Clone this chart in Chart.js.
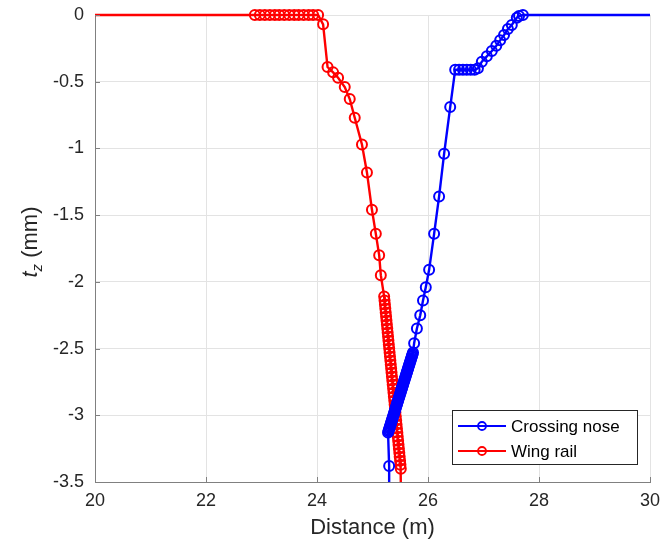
<!DOCTYPE html>
<html>
<head>
<meta charset="utf-8">
<script src="https://cdn.jsdelivr.net/npm/chart.js@4"></script>
<style>
  html, body { margin: 0; padding: 0; background: #fff; }
  #wrap { width: 662px; height: 548px; }
</style>
</head>
<body>
<div id="wrap"><canvas id="chart" width="662" height="548"></canvas></div>
<script>
// Data
const seriesNames = ["Crossing nose", "Wing rail"];

const noseX = [25.30, 25.30,
  25.2800, 25.2875, 25.2950, 25.3025, 25.3100, 25.3175, 25.3250, 25.3325, 25.3400, 25.3475,
  25.3550, 25.3625, 25.3700, 25.3775, 25.3850, 25.3925, 25.4000, 25.4075, 25.4150, 25.4225,
  25.4300, 25.4375, 25.4450, 25.4525, 25.4600, 25.4675, 25.4750, 25.4825, 25.4900, 25.4975,
  25.5050, 25.5125, 25.5200, 25.5275, 25.5350, 25.5425, 25.5500, 25.5575, 25.5650, 25.5725,
  25.5800, 25.5875, 25.5950, 25.6025, 25.6100, 25.6175, 25.6250, 25.6325, 25.6400, 25.6475,
  25.6550, 25.6625, 25.6700, 25.6775, 25.6850, 25.6925, 25.7000, 25.7075, 25.7150, 25.7225, 25.7300,
  25.75, 25.80, 25.86, 25.91, 25.96, 26.02, 26.11, 26.20, 26.29, 26.40,
  26.49, 26.56, 26.63, 26.70, 26.77, 26.84, 26.90,
  26.97, 27.06, 27.15, 27.23, 27.30, 27.37, 27.44, 27.51, 27.60, 27.64, 27.71, 31];
const noseY = [-3.9, -3.38,
  -3.13, -3.12, -3.11, -3.10, -3.09, -3.08, -3.07, -3.06, -3.05, -3.04,
  -3.03, -3.02, -3.01, -3.00, -2.99, -2.98, -2.97, -2.96, -2.95, -2.94,
  -2.93, -2.92, -2.91, -2.90, -2.89, -2.88, -2.87, -2.86, -2.85, -2.84,
  -2.83, -2.82, -2.81, -2.80, -2.79, -2.78, -2.77, -2.76, -2.75, -2.74,
  -2.73, -2.72, -2.71, -2.70, -2.69, -2.68, -2.67, -2.66, -2.65, -2.64,
  -2.63, -2.62, -2.61, -2.60, -2.59, -2.58, -2.57, -2.56, -2.55, -2.54, -2.53,
  -2.46, -2.35, -2.25, -2.14, -2.04, -1.91, -1.64, -1.36, -1.04, -0.69,
  -0.41, -0.41, -0.41, -0.41, -0.41, -0.41, -0.40,
  -0.35, -0.31, -0.27, -0.23, -0.19, -0.15, -0.105, -0.075, -0.02, -0.008, 0, 0];

const wingX = [19,
  22.88, 22.97, 23.06, 23.15, 23.24, 23.32, 23.41, 23.50, 23.59, 23.67, 23.76, 23.85, 23.93, 24.02,
  24.11, 24.19, 24.29, 24.38, 24.50, 24.59, 24.68, 24.81, 24.90, 24.99, 25.06, 25.12, 25.15,
  25.210, 25.217, 25.224, 25.231, 25.238, 25.245, 25.252, 25.259, 25.266, 25.273,
  25.280, 25.287, 25.294, 25.301, 25.308, 25.315, 25.322, 25.329, 25.336, 25.343,
  25.350, 25.357, 25.364, 25.371, 25.378, 25.385, 25.392, 25.399, 25.406, 25.413,
  25.420, 25.427, 25.434, 25.441, 25.448, 25.455, 25.462, 25.469, 25.476, 25.483,
  25.490, 25.497, 25.504, 25.510, 25.52];
const wingY = [0,
  0, 0, 0, 0, 0, 0, 0, 0, 0, 0, 0, 0, 0, 0,
  -0.07, -0.39, -0.43, -0.47, -0.54, -0.63, -0.77, -0.97, -1.18, -1.46, -1.64, -1.80, -1.95,
  -2.11, -2.14, -2.17, -2.20, -2.23, -2.26, -2.29, -2.32, -2.35, -2.38,
  -2.41, -2.44, -2.47, -2.50, -2.53, -2.56, -2.59, -2.62, -2.65, -2.68,
  -2.71, -2.74, -2.77, -2.80, -2.83, -2.86, -2.89, -2.92, -2.95, -2.98,
  -3.01, -3.04, -3.07, -3.10, -3.13, -3.16, -3.19, -3.22, -3.25, -3.28,
  -3.31, -3.34, -3.37, -3.40, -3.9];

const xTicks = [20, 22, 24, 26, 28, 30];
const yTicks = [0, -0.5, -1, -1.5, -2, -2.5, -3, -3.5];
const seriesColors = ["#0000ff", "#ff0000"];

const FONT = '"Liberation Sans", Arial, Helvetica, sans-serif';
const TEXT = "#262626";
const AXIS = "#808080";

function toPoints(xs, ys) {
  return xs.map((x, i) => ({ x: x, y: ys[i] }));
}

function makeDataset(name, color, pts) {
  return {
    label: name,
    data: pts,
    showLine: true,
    borderColor: color,
    backgroundColor: "transparent",
    borderWidth: 2.4,
    pointRadius: 5,
    pointBorderWidth: 2,
    pointBorderColor: color,
    pointBackgroundColor: "transparent",
    pointHoverRadius: 5,
    // let the y=0 markers spill over the top edge, clip everything else
    clip: { left: 0, top: 8, right: 0, bottom: 0 },
  };
}

// Axis titles, inward ticks and the boxed legend, drawn the MATLAB way
const decorations = {
  id: "decorations",
  afterDraw(chart) {
    const { ctx, chartArea, scales } = chart;
    ctx.save();

    // inward tick marks
    ctx.strokeStyle = AXIS;
    ctx.lineWidth = 1;
    ctx.beginPath();
    xTicks.forEach((t) => {
      const px = Math.round(scales.x.getPixelForValue(t)) + 0.5;
      ctx.moveTo(px, chartArea.bottom);
      ctx.lineTo(px, chartArea.bottom - 5);
    });
    yTicks.forEach((t) => {
      const py = Math.round(scales.y.getPixelForValue(t)) + 0.5;
      ctx.moveTo(chartArea.left, py);
      ctx.lineTo(chartArea.left + 5, py);
    });
    ctx.stroke();

    // x title
    ctx.fillStyle = TEXT;
    ctx.font = "22px " + FONT;
    ctx.textAlign = "center";
    ctx.textBaseline = "middle";
    ctx.fillText("Distance (m)", (chartArea.left + chartArea.right) / 2, 528);

    // y title: italic t with subscript z
    ctx.save();
    ctx.translate(30, 242);
    ctx.rotate(-Math.PI / 2);
    ctx.textAlign = "left";
    ctx.textBaseline = "alphabetic";
    const fT = "italic 22px " + FONT;
    const fZ = "italic 15px " + FONT;
    const fR = "22px " + FONT;
    ctx.font = fT; const wT = ctx.measureText("t").width;
    ctx.font = fZ; const wZ = ctx.measureText("z").width;
    ctx.font = fR; const wR = ctx.measureText(" (mm)").width;
    let x0 = -(wT + wZ + wR) / 2;
    const base = 7;
    ctx.font = fT; ctx.fillText("t", x0, base); x0 += wT;
    ctx.font = fZ; ctx.fillText("z", x0, base + 5); x0 += wZ;
    ctx.font = fR; ctx.fillText(" (mm)", x0, base);
    ctx.restore();

    // legend box
    const bx = 452, by = 410, bw = 185, bh = 54;
    ctx.fillStyle = "#fff";
    ctx.fillRect(bx, by, bw, bh);
    ctx.strokeStyle = TEXT;
    ctx.lineWidth = 1;
    ctx.strokeRect(bx + 0.5, by + 0.5, bw, bh);
    ctx.font = "17px " + FONT;
    ctx.textAlign = "left";
    ctx.textBaseline = "middle";
    seriesNames.forEach((name, i) => {
      const y = by + 16 + i * 25;
      ctx.strokeStyle = seriesColors[i];
      ctx.lineWidth = 2;
      ctx.beginPath();
      ctx.moveTo(bx + 6, y);
      ctx.lineTo(bx + 54, y);
      ctx.stroke();
      ctx.beginPath();
      ctx.lineWidth = 1.8;
      ctx.arc(bx + 30, y, 4, 0, Math.PI * 2);
      ctx.stroke();
      ctx.fillStyle = "#000";
      ctx.fillText(name, bx + 59, y + 1);
    });

    ctx.restore();
  },
};

new Chart(document.getElementById("chart"), {
  type: "scatter",
  data: {
    datasets: [
      makeDataset(seriesNames[0], seriesColors[0], toPoints(noseX, noseY)),
      makeDataset(seriesNames[1], seriesColors[1], toPoints(wingX, wingY)),
    ],
  },
  options: {
    responsive: false,
    animation: false,
    events: [],
    layout: { padding: { top: 15, right: 12, left: 0, bottom: 0 } },
    plugins: { legend: { display: false }, tooltip: { enabled: false } },
    scales: {
      x: {
        type: "linear",
        min: 20,
        max: 30,
        afterFit: (s) => { s.height = 66; s.paddingLeft = 0; s.paddingRight = 0; },
        afterBuildTicks: (s) => { s.ticks = xTicks.map((v) => ({ value: v })); },
        ticks: {
          color: TEXT, font: { family: FONT, size: 18 }, padding: 8, maxRotation: 0,
          callback: (v) => String(v),
        },
        grid: { color: "#e3e3e3", drawTicks: false },
        border: { display: true, color: AXIS, width: 1 },
      },
      y: {
        type: "linear",
        min: -3.5,
        max: 0,
        afterFit: (s) => { s.width = 95; s.paddingTop = 0; s.paddingBottom = 0; },
        afterBuildTicks: (s) => { s.ticks = yTicks.map((v) => ({ value: v })); },
        ticks: {
          color: TEXT, font: { family: FONT, size: 18 }, padding: 11,
          callback: (v) => String(v),
        },
        grid: { color: "#e3e3e3", drawTicks: false },
        border: { display: true, color: AXIS, width: 1 },
      },
    },
  },
  plugins: [decorations],
});
</script>
</body>
</html>
